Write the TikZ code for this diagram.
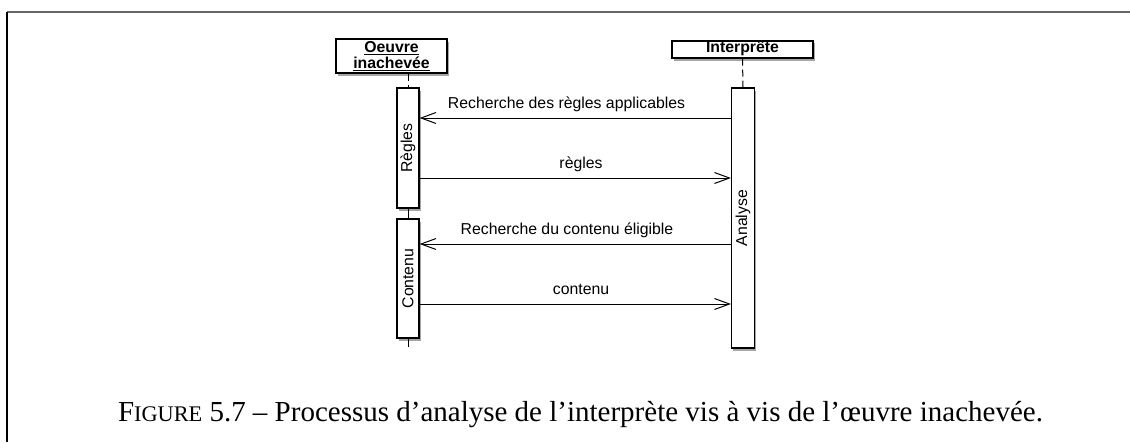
\documentclass[tikz,border=0pt]{standalone}
\usepackage{fontspec}
\setmainfont{Liberation Serif}
\newfontfamily\diagfont{Liberation Sans}
\usetikzlibrary{arrows.meta,shadows}
\begin{document}
\begin{tikzpicture}[x=1pt,y=-1pt,
  shd/.style={drop shadow={shadow xshift=1.5pt,shadow yshift=-2.5pt,fill=black,opacity=0.35}},
  headbox/.style={draw=black,line width=1.2pt,fill=white,shd,inner sep=0pt,align=center,
    font=\diagfont\fontsize{15.8}{16.5}\selectfont\bfseries},
  actbox/.style={draw=black,line width=1.2pt,fill=white,shd,inner sep=0pt},
  actlabel/.style={rotate=90,font=\diagfont\fontsize{15.8}{17}\selectfont,inner sep=0pt},
  msglabel/.style={anchor=base,font=\diagfont\fontsize{15.8}{17}\selectfont,inner sep=0pt},
  msg/.style={line width=1pt,-{Straight Barb[length=15pt,width=11pt,line width=1pt]}},
  life/.style={line width=1pt,dash pattern=on 7pt off 4pt},
  frameline/.style={line width=1.6pt}]
\useasboundingbox (0,0) rectangle (1130,442);
% frame
\coordinate (ftl) at (7,12);
\coordinate (ftr) at (1130,12);
\coordinate (fbl) at (7,442);
\draw[frameline,draw=black!60] (ftl) -- (ftr);
\draw[frameline,draw=black] (ftl) -- (fbl);
% header boxes
\node[headbox,minimum width=111pt,minimum height=34pt] (oeuvre) at (391.5,56)
  {\underline{Oeuvre}\\[-0.5pt]\underline{inachevée}};
\node[headbox,minimum width=141pt,minimum height=17pt] (interp) at (742.5,49.5)
  {\underline{Interprête}};
% activation boxes
\node[actbox,minimum width=22pt,minimum height=120pt] (regles) at (408,148) {};
\node[actbox,minimum width=22pt,minimum height=119pt] (contenu) at (408,278.5) {};
\node[actbox,minimum width=23pt,minimum height=260pt] (analyse) at (743,218) {};
\node[actlabel] (lregles) at (regles.center) {Règles};
\node[actlabel] (lcontenu) at (contenu.center) {Contenu};
\node[actlabel] (lanalyse) at (analyse.center) {Analyse};
% lifelines
\coordinate (oend) at (408,347);
\draw[life] (regles.north |- oeuvre.south) -- (regles.north);
\draw[line width=1pt] (regles.south) -- (contenu.north);
\draw[line width=1pt] (contenu.south) -- (oend);
\draw[life] (interp.south) -- (analyse.north);
% messages
\coordinate (m1) at (0,118);
\coordinate (m2) at (0,178);
\coordinate (m3) at (0,244);
\coordinate (m4) at (0,304);
\draw[msg] (analyse.west |- m1) -- (regles.east |- m1);
\draw[msg] (regles.east |- m2) -- (analyse.west |- m2);
\draw[msg] (analyse.west |- m3) -- (contenu.east |- m3);
\draw[msg] (contenu.east |- m4) -- (analyse.west |- m4);
\node[msglabel] (t1) at (566.5,108) {Recherche des règles applicables};
\node[msglabel] (t2) at (581,168) {règles};
\node[msglabel] (t3) at (567,234.5) {Recherche du contenu éligible};
\node[msglabel] (t4) at (581,294.5) {contenu};
% caption
\node[anchor=base,inner sep=0pt,font=\fontsize{29}{33}\selectfont] (cap) at (580.5,421)
  {F{\fontsize{22.3}{25}\selectfont IGURE} 5.7 – Processus d’analyse de l’interprète vis à vis de l’œuvre inachevée.};
\end{tikzpicture}
\end{document}
